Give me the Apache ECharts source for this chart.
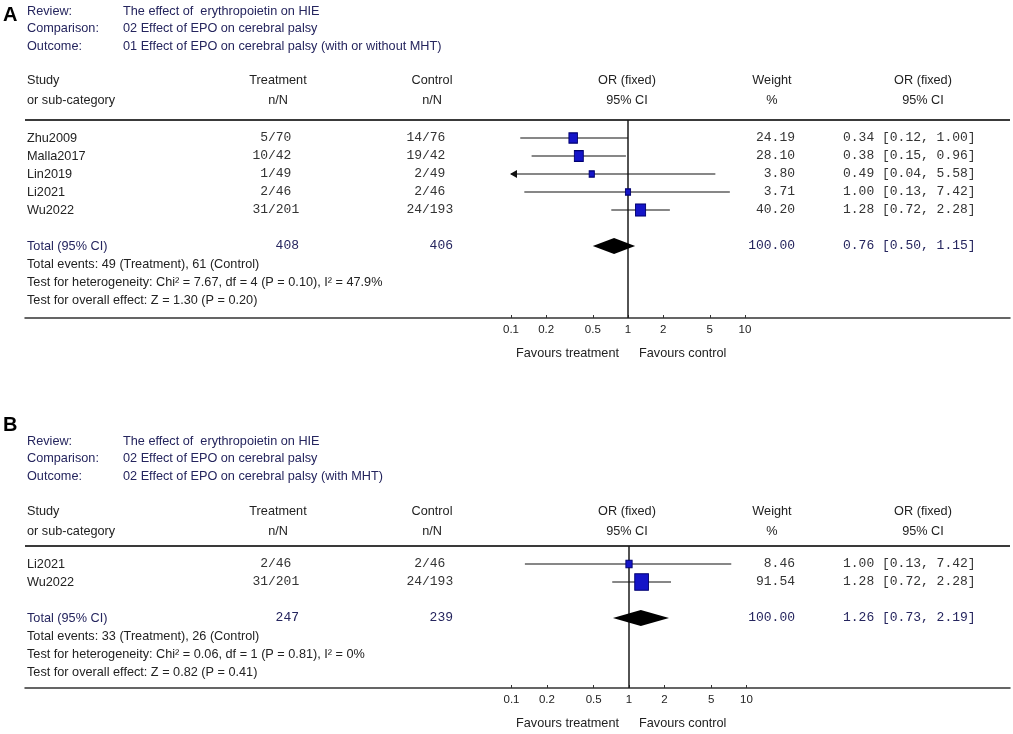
<!DOCTYPE html>
<html>
<head>
<meta charset="utf-8">
<title>Forest plot: EPO and cerebral palsy</title>
<script src="https://cdn.jsdelivr.net/npm/echarts@6/dist/echarts.min.js"></script>
<style>
  html, body { margin: 0; padding: 0; background: #fff; }
  #chart { width: 1013px; height: 734px; }
</style>
</head>
<body>
<div id="chart"></div>
<script>
// ---- data ----
const tickVals = [0.1, 0.2, 0.5, 1, 2, 5, 10]
const tickLabels = ['0.1', '0.2', '0.5', '1', '2', '5', '10']
const metaLabels = ['Review:', 'Comparison:', 'Outcome:']

// panel A: with or without MHT
const metaA = ['The effect of  erythropoietin on HIE', '02 Effect of EPO on cerebral palsy', '01 Effect of EPO on cerebral palsy (with or without MHT)']
const studiesA = ['Zhu2009', 'Malla2017', 'Lin2019', 'Li2021', 'Wu2022']
const treatA = ['5/70', '10/42', '1/49', '2/46', '31/201']
const controlA = ['14/76', '19/42', '2/49', '2/46', '24/193']
const orA = [0.34, 0.38, 0.49, 1.00, 1.28]
const loA = [0.12, 0.15, 0.04, 0.13, 0.72]
const hiA = [1.00, 0.96, 5.58, 7.42, 2.28]
const weightA = [24.19, 28.10, 3.80, 3.71, 40.20]
const totalNA = [408, 406]
const totalOrA = [0.76, 0.50, 1.15]
const statsA = [
  'Total events: 49 (Treatment), 61 (Control)',
  'Test for heterogeneity: Chi\u00b2 = 7.67, df = 4 (P = 0.10), I\u00b2 = 47.9%',
  'Test for overall effect: Z = 1.30 (P = 0.20)',
]

// panel B: with MHT
const metaB = ['The effect of  erythropoietin on HIE', '02 Effect of EPO on cerebral palsy', '02 Effect of EPO on cerebral palsy (with MHT)']
const studiesB = ['Li2021', 'Wu2022']
const treatB = ['2/46', '31/201']
const controlB = ['2/46', '24/193']
const orB = [1.00, 1.28]
const loB = [0.13, 0.72]
const hiB = [7.42, 2.28]
const weightB = [8.46, 91.54]
const totalNB = [247, 239]
const totalOrB = [1.26, 0.73, 2.19]
const statsB = [
  'Total events: 33 (Treatment), 26 (Control)',
  'Test for heterogeneity: Chi\u00b2 = 0.06, df = 1 (P = 0.81), I\u00b2 = 0%',
  'Test for overall effect: Z = 0.82 (P = 0.41)',
]

// ---- layout ----
const NAVY = '#25255e'
const SANS = '12.7px "Liberation Sans", Arial, sans-serif'
const MONO = '13px "Liberation Mono", "Courier New", monospace'
const LEFT = 25
const RIGHT = 1010
const ROW = 18

const panels = [
  {
    letter: 'A', letterY: 15, metaY: 11, headY: 80, top: 120, axisY: 318, one: 628, dec: 117,
    meta: metaA, studies: studiesA, treat: treatA, control: controlA,
    or: orA, lo: loA, hi: hiA, weight: weightA, totalN: totalNA, totalOr: totalOrA, stats: statsA,
  },
  {
    letter: 'B', letterY: 425, metaY: 441, headY: 511, top: 546, axisY: 688, one: 629, dec: 117.5,
    meta: metaB, studies: studiesB, treat: treatB, control: controlB,
    or: orB, lo: loB, hi: hiB, weight: weightB, totalN: totalNB, totalOr: totalOrB, stats: statsB,
  },
]

function fmt(v) { return v.toFixed(2) }
function ciText(o) { return fmt(o[0]) + ' [' + fmt(o[1]) + ', ' + fmt(o[2]) + ']' }

function txt(x, y, text, opt) {
  return {
    type: 'text', x, y, silent: true,
    style: Object.assign({ text, fill: '#222', font: SANS, align: 'left', verticalAlign: 'middle' }, opt || {}),
  }
}

function fraction(g, xSlash, y, s, fill) {
  const k = s.indexOf('/')
  g.push(txt(xSlash, y, s.slice(0, k), { font: MONO, fill, align: 'right' }))
  g.push(txt(xSlash, y, s.slice(k), { font: MONO, fill }))
}

function panelGraphics(P) {
  const g = []
  g.push(txt(3, P.letterY, P.letter, { font: 'bold 20px "Liberation Sans", Arial, sans-serif', fill: '#000' }))
  metaLabels.forEach((l, i) => {
    g.push(txt(27, P.metaY + 17.5 * i, l, { fill: NAVY }))
    g.push(txt(123, P.metaY + 17.5 * i, P.meta[i], { fill: NAVY }))
  })
  const h2 = P.headY + 20
  g.push(txt(27, P.headY, 'Study'))
  g.push(txt(27, h2, 'or sub-category'))
  const heads = [[278, 'Treatment', 'n/N'], [432, 'Control', 'n/N'], [627, 'OR (fixed)', '95% CI'], [772, 'Weight', '%'], [923, 'OR (fixed)', '95% CI']]
  heads.forEach(h => {
    g.push(txt(h[0], P.headY, h[1], { align: 'center' }))
    g.push(txt(h[0], h2, h[2], { align: 'center' }))
  })
  g.push({ type: 'line', silent: true, shape: { x1: LEFT, y1: P.top, x2: RIGHT, y2: P.top }, style: { stroke: '#3a3a3a', lineWidth: 2 } })

  P.studies.forEach((s, i) => {
    const y = P.top + ROW * (i + 1)
    g.push(txt(27, y, s))
    fraction(g, 268, y, P.treat[i], '#333')
    fraction(g, 422, y, P.control[i], '#333')
    g.push(txt(795, y, fmt(P.weight[i]), { font: MONO, fill: '#333', align: 'right' }))
    g.push(txt(843, y, ciText([P.or[i], P.lo[i], P.hi[i]]), { font: MONO, fill: '#333' }))
  })

  const ty = P.top + ROW * (P.studies.length + 2)
  g.push(txt(27, ty, 'Total (95% CI)', { fill: NAVY }))
  g.push(txt(299, ty, String(P.totalN[0]), { font: MONO, fill: NAVY, align: 'right' }))
  g.push(txt(453, ty, String(P.totalN[1]), { font: MONO, fill: NAVY, align: 'right' }))
  g.push(txt(795, ty, '100.00', { font: MONO, fill: NAVY, align: 'right' }))
  g.push(txt(843, ty, ciText(P.totalOr), { font: MONO, fill: NAVY }))
  P.stats.forEach((s, k) => g.push(txt(27, ty + ROW * (k + 1), s)))

  g.push(txt(619, P.axisY + 35, 'Favours treatment', { align: 'right' }))
  g.push(txt(639, P.axisY + 35, 'Favours control'))
  return g
}

function nearestLabel(v) {
  let best = 0
  tickVals.forEach((t, i) => { if (Math.abs(Math.log(t / v)) < Math.abs(Math.log(tickVals[best] / v))) best = i })
  return tickLabels[best]
}

const grids = []
const xAxes = []
const yAxes = []
const series = []
let graphic = []

panels.forEach((P, pi) => {
  const yMax = (P.axisY - P.top) / ROW
  const totalRow = P.studies.length + 2
  grids.push({ left: LEFT, top: P.top, width: RIGHT - LEFT, height: P.axisY - P.top })
  xAxes.push({
    type: 'log', gridIndex: pi, position: 'bottom',
    min: Math.pow(10, (LEFT - P.one) / P.dec),
    max: Math.pow(10, (RIGHT - P.one) / P.dec),
    axisLine: { show: true, onZero: false, lineStyle: { color: '#333', width: 1.5 } },
    axisTick: { show: true, inside: true, length: 3, customValues: tickVals, lineStyle: { color: '#333' } },
    axisLabel: { customValues: tickVals, formatter: nearestLabel, color: '#222', fontSize: 11.5, margin: 6, fontFamily: 'Liberation Sans' },
    splitLine: { show: false },
    minorTick: { show: false },
  })
  yAxes.push({ type: 'value', gridIndex: pi, inverse: true, min: 0, max: yMax, show: false })

  // vertical line of no effect
  series.push({
    type: 'line', xAxisIndex: pi, yAxisIndex: pi, symbol: 'none', z: 1,
    lineStyle: { color: '#1a1a1a', width: 1.5 },
    data: [[1, 0], [1, yMax]],
  })

  // confidence intervals
  series.push({
    type: 'custom', xAxisIndex: pi, yAxisIndex: pi, z: 2,
    encode: { x: [0, 1, 2], y: 3 },
    data: P.or.map((o, i) => [o, P.lo[i], P.hi[i], i + 1]),
    renderItem(params, api) {
      const lo = api.value(1)
      const hi = api.value(2)
      const y = api.value(3)
      const p0 = api.coord([Math.max(lo, 0.1), y])
      const p1 = api.coord([Math.min(hi, 10), y])
      const children = [{
        type: 'line',
        shape: { x1: p0[0], y1: p0[1], x2: p1[0], y2: p1[1] },
        style: { stroke: '#111', lineWidth: 1.2 },
      }]
      if (lo < 0.1) {
        children.push({ type: 'polygon', shape: { points: [[p0[0] - 1, p0[1]], [p0[0] + 6, p0[1] - 4], [p0[0] + 6, p0[1] + 4]] }, style: { fill: '#111' } })
      }
      if (hi > 10) {
        children.push({ type: 'polygon', shape: { points: [[p1[0] + 1, p1[1]], [p1[0] - 6, p1[1] - 4], [p1[0] - 6, p1[1] + 4]] }, style: { fill: '#111' } })
      }
      return { type: 'group', children }
    },
  })

  // study weights as squares
  series.push({
    type: 'scatter', xAxisIndex: pi, yAxisIndex: pi, z: 3,
    symbol: 'rect',
    symbolSize(v) { const s = 3 + 1.12 * Math.sqrt(v[2]); return [s, s * 1.2] },
    itemStyle: { color: '#1515c8', borderColor: '#000070', borderWidth: 1, opacity: 1 },
    data: P.or.map((o, i) => [o, i + 1, P.weight[i]]),
  })

  // pooled estimate diamond
  series.push({
    type: 'custom', xAxisIndex: pi, yAxisIndex: pi, z: 3,
    encode: { x: [0, 1, 2], y: 3 },
    data: [[P.totalOr[0], P.totalOr[1], P.totalOr[2], totalRow]],
    renderItem(params, api) {
      const y = api.value(3)
      const c = api.coord([api.value(0), y])
      const l = api.coord([api.value(1), y])
      const r = api.coord([api.value(2), y])
      return {
        type: 'polygon',
        shape: { points: [[l[0], c[1]], [c[0], c[1] - 8], [r[0], c[1]], [c[0], c[1] + 8]] },
        style: { fill: '#000' },
      }
    },
  })

  graphic = graphic.concat(panelGraphics(P))
})

const chart = echarts.init(document.getElementById('chart'))
chart.setOption({
  animation: false,
  backgroundColor: '#fff',
  grid: grids,
  xAxis: xAxes,
  yAxis: yAxes,
  series,
  graphic,
})
</script>
</body>
</html>
